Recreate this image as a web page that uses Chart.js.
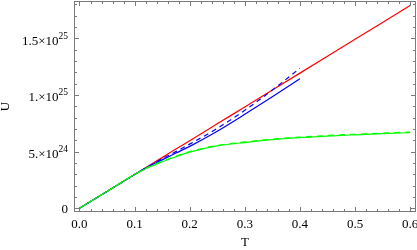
<!DOCTYPE html>
<html>
<head>
<meta charset="utf-8">
<style>
  html, body { margin: 0; padding: 0; background: #fff; }
  #wrap { width: 417px; height: 250px; }
</style>
<script src="https://cdn.jsdelivr.net/npm/chart.js@4.4.0/dist/chart.umd.min.js"></script>
</head>
<body>
<div id="wrap"><canvas id="myChart"></canvas></div>
<script>
// Temperatures (x values)
var tFull = [0, 0.05, 0.1, 0.125, 0.15, 0.175, 0.2, 0.25, 0.3, 0.35, 0.4, 0.45, 0.5, 0.55, 0.6];
var tShort = [0, 0.05, 0.1, 0.125, 0.15, 0.175, 0.2, 0.25, 0.3, 0.35, 0.4];

// Energy U for each curve
var redU = [0, 1.49e24, 2.98e24, 3.73e24, 4.47e24, 5.22e24, 5.96e24, 7.45e24, 8.94e24, 10.43e24, 11.92e24, 13.41e24, 14.9e24, 16.39e24, 17.88e24];
var blueSolidU = [0, 1.49e24, 2.98e24, 3.68e24, 4.27e24, 4.87e24, 5.46e24, 6.8e24, 8.29e24, 9.83e24, 11.42e24];
var blueDashedU = [0, 1.49e24, 2.98e24, 3.7e24, 4.37e24, 5.0e24, 5.66e24, 7.05e24, 8.64e24, 10.43e24, 12.35e24];
var greenSolidU = [0, 1.49e24, 2.98e24, 3.6e24, 4.1e24, 4.55e24, 4.95e24, 5.5e24, 5.8e24, 6.05e24, 6.23e24, 6.37e24, 6.48e24, 6.58e24, 6.67e24];
var greenDashedU = [0, 1.49e24, 2.98e24, 3.63e24, 4.14e24, 4.6e24, 5.0e24, 5.55e24, 5.85e24, 6.1e24, 6.28e24, 6.42e24, 6.53e24, 6.63e24, 6.72e24];

// Ticks
var xTickValues = [0, 0.1, 0.2, 0.3, 0.4, 0.5, 0.6];
var xTickLabels = ['0.0', '0.1', '0.2', '0.3', '0.4', '0.5', '0.6'];
var yTickValues = [0, 5e24, 1e25, 1.5e25];
var yTickBase = ['0', '5.×10', '1.×10', '1.5×10'];
var yTickExp = ['', '24', '25', '25'];

function pts(xs, ys) {
    return xs.map(function (x, i) { return { x: x, y: ys[i] }; });
}

function line(data, color, dash) {
    return {
        data: data,
        borderColor: color,
        borderWidth: 1.2,
        borderDash: dash || [],
        pointRadius: 0,
        showLine: true,
        fill: false,
        cubicInterpolationMode: 'monotone'
    };
}

function noPad(scale) {
    scale.paddingLeft = 0;
    scale.paddingRight = 0;
    scale.paddingTop = 0;
    scale.paddingBottom = 0;
}

// Frame with inward ticks on all four sides, plus y labels with exponents
var frameTicks = {
    id: 'frameTicks',
    afterDatasetsDraw: function (chart) {
        var ctx = chart.ctx, a = chart.chartArea;
        var xs = chart.scales.x, ys = chart.scales.y;
        ctx.save();
        ctx.strokeStyle = '#7a7a7a';
        ctx.lineWidth = 1;
        ctx.strokeRect(a.left + 0.5, a.top + 0.5, a.right - a.left - 1, a.bottom - a.top - 1);
        ctx.beginPath();
        for (var i = 0; i <= 30; i++) {
            var px = Math.round(xs.getPixelForValue(i * 0.02)) + 0.5;
            var len = i % 5 === 0 ? 5 : 3;
            ctx.moveTo(px, a.bottom);
            ctx.lineTo(px, a.bottom - len);
            ctx.moveTo(px, a.top);
            ctx.lineTo(px, a.top + len);
        }
        for (var j = 0; j <= 18; j++) {
            var py = Math.round(ys.getPixelForValue(j * 1e24)) + 0.5;
            var l2 = j % 5 === 0 ? 5 : 3;
            ctx.moveTo(a.left, py);
            ctx.lineTo(a.left + l2, py);
            ctx.moveTo(a.right, py);
            ctx.lineTo(a.right - l2, py);
        }
        ctx.stroke();

        // y tick labels
        ctx.fillStyle = '#000';
        ctx.textAlign = 'right';
        ctx.textBaseline = 'alphabetic';
        var right = a.left - 6;
        yTickValues.forEach(function (v, k) {
            var y = ys.getPixelForValue(v);
            if (yTickExp[k] === '') {
                ctx.font = '13px "Liberation Serif"';
                ctx.fillText(yTickBase[k], right, y + 5);
                return;
            }
            ctx.font = '9.5px "Liberation Serif"';
            var w = ctx.measureText(yTickExp[k]).width;
            ctx.fillText(yTickExp[k], right, y + 0.5);
            ctx.font = '13px "Liberation Serif"';
            ctx.fillText(yTickBase[k], right - w, y + 6.5);
        });
        ctx.restore();
    }
};

var tickFont = { family: 'Liberation Serif', size: 13 };

var ctx = document.getElementById('myChart').getContext('2d');
var myChart = new Chart(ctx, {
    type: 'scatter',
    data: {
        datasets: [
            line(pts(tFull, greenDashedU), 'rgb(0,255,0)', [6, 5]),
            line(pts(tFull, greenSolidU), 'rgb(0,255,0)'),
            line(pts(tShort, blueDashedU), 'rgb(0,0,255)', [5, 4]),
            line(pts(tShort, blueSolidU), 'rgb(0,0,255)'),
            line(pts(tFull, redU), 'rgb(255,0,0)')
        ]
    },
    options: {
        responsive: true,
        maintainAspectRatio: false,
        animation: false,
        layout: { padding: { left: 0, right: 1, top: 1, bottom: 0 } },
        plugins: { legend: { display: false }, tooltip: { enabled: false } },
        scales: {
            x: {
                type: 'linear',
                min: -0.00998,
                max: 0.6107,
                grid: { display: false, drawTicks: false },
                border: { display: false },
                afterBuildTicks: function (scale) {
                    scale.ticks = xTickValues.map(function (v) { return { value: v }; });
                },
                afterFit: function (scale) { scale.height = 38; noPad(scale); },
                ticks: {
                    padding: 5,
                    color: '#000',
                    font: tickFont,
                    maxRotation: 0,
                    callback: function (v, i) { return xTickLabels[i]; }
                },
                title: { display: true, text: 'T', color: '#000', font: tickFont, padding: { top: 0, bottom: 0 } }
            },
            y: {
                type: 'linear',
                min: -3.26e23,
                max: 1.8281e25,
                grid: { display: false, drawTicks: false },
                border: { display: false },
                afterBuildTicks: function (scale) {
                    scale.ticks = yTickValues.map(function (v) { return { value: v }; });
                },
                afterFit: function (scale) { scale.width = 74; noPad(scale); },
                ticks: {
                    display: false
                },
                title: { display: true, text: 'U', color: '#000', font: tickFont, padding: { top: -2, bottom: 0 } }
            }
        }
    },
    plugins: [frameTicks]
});
</script>
</body>
</html>
